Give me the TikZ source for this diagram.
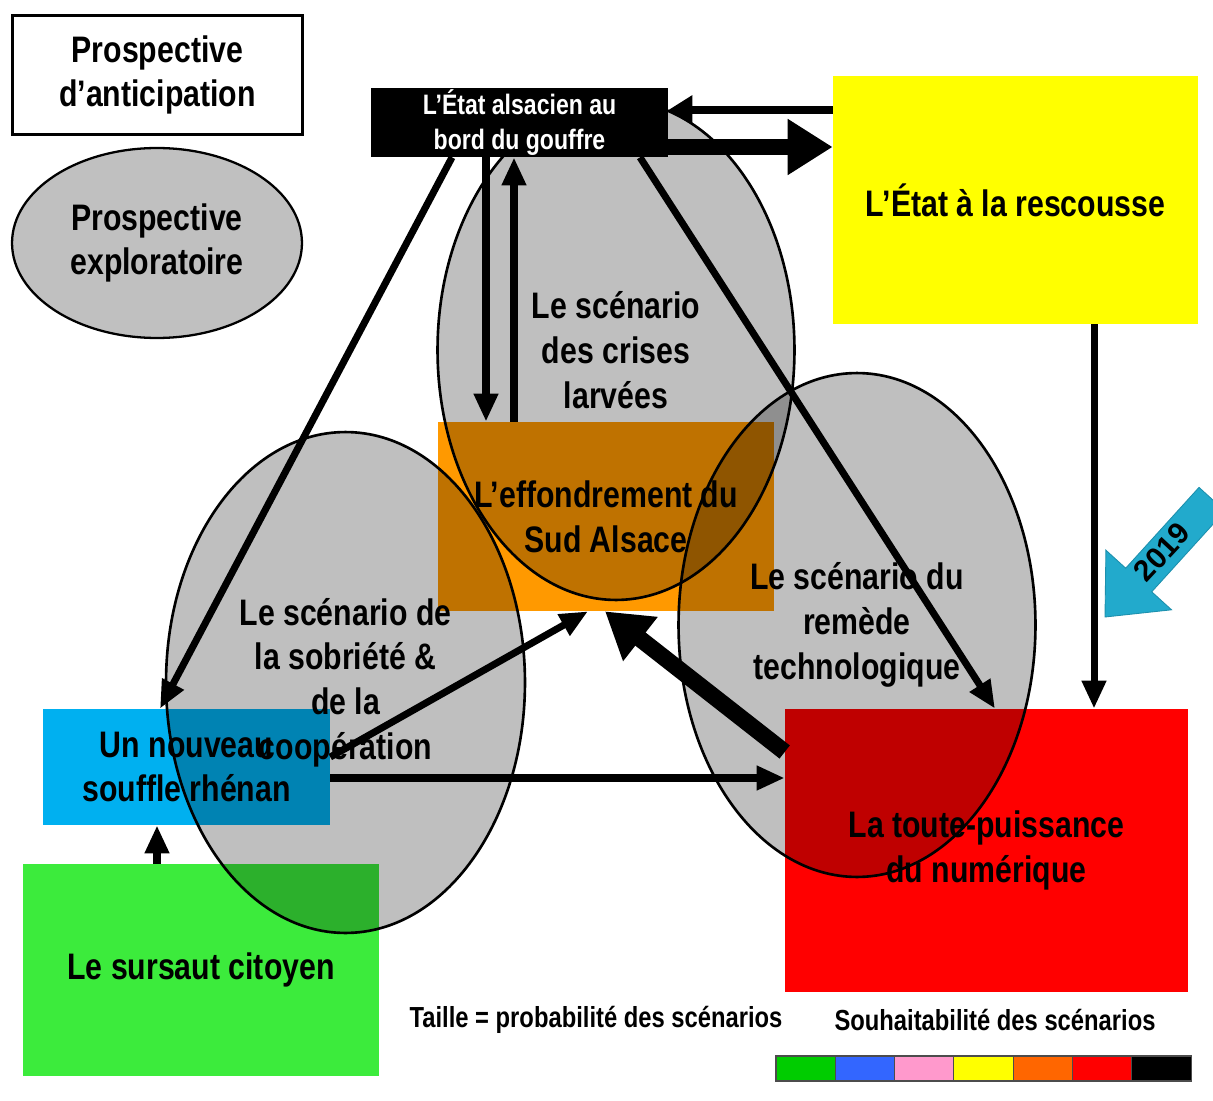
\documentclass[tikz,border=0pt]{standalone}
\usepackage{fontspec}
\setmainfont{Liberation Sans}[FakeStretch=0.82]
\newfontfamily\yearfont{Liberation Sans}
\usetikzlibrary{arrows.meta,shapes.geometric}
\definecolor{scgray}{HTML}{C0C0C0}
\definecolor{scorange}{HTML}{FF9900}
\definecolor{scblue}{HTML}{00B0F0}
\definecolor{scgreen}{HTML}{3CEB3C}
\definecolor{scred}{HTML}{FF0000}
\definecolor{scyellow}{HTML}{FFFF00}
\definecolor{yearcyan}{HTML}{22AACC}
\definecolor{lgreen}{HTML}{00CC00}
\definecolor{lblue}{HTML}{3366FF}
\definecolor{lpink}{HTML}{FF99CC}
\definecolor{lyellow}{HTML}{FFFF00}
\definecolor{lorange}{HTML}{FF6600}
\definecolor{lred}{HTML}{FF0000}
\begin{document}
\begin{tikzpicture}[x=0.02cm,y=-0.02cm,
 every node/.style={font=\bfseries\fontsize{21}{25.5}\selectfont,align=center,inner sep=0pt},
 box/.style={rectangle,inner sep=0pt},
 scen/.style={ellipse,draw,line width=1.5pt,fill=black,fill opacity=0.25,text opacity=1},
 arr/.style={-{Triangle[length=0.56cm,width=0.46cm]},line width=4pt},
 midarr/.style={-{Triangle[length=0.48cm,width=0.56cm]},line width=5pt},
 bigarr/.style={-{Triangle[length=0.9cm,width=1.06cm]},line width=9.5pt},
 legend/.style={font=\bfseries\fontsize{16.5}{19}\selectfont}]
\useasboundingbox (0,0) rectangle (1213,1101);
\node[box,draw,line width=1.7pt,fill=white,minimum width=5.82cm,minimum height=2.4cm] (anticip) at (157.5,75) {Prospective\\d’anticipation};
\node[ellipse,draw,line width=1.3pt,fill=scgray,minimum width=5.8cm,minimum height=3.8cm] (explor) at (157,243) {Prospective\\exploratoire};
\node[box,fill=scyellow,minimum width=7.3cm,minimum height=4.96cm] (rescousse) at (1015.5,200) {L’État à la rescousse};
\node[box,fill=scorange,minimum width=6.72cm,minimum height=3.78cm] (effond) at (606,516.5) {L’effondrement du\\Sud Alsace};
\node[box,fill=scblue,minimum width=5.74cm,minimum height=2.32cm] (souffle) at (186.5,767) {Un nouveau\\souffle rhénan};
\node[box,fill=scgreen,minimum width=7.12cm,minimum height=4.24cm] (sursaut) at (201,970) {Le sursaut citoyen};
\node[box,fill=scred,minimum width=8.06cm,minimum height=5.66cm] (numerique) at (986.5,850.5) {La toute-puissance\\du numérique};
\node[scen,minimum width=7.14cm,minimum height=10cm] (crises) at (616,350) {Le scénario\\des crises\\larvées};
\node[scen,minimum width=7.14cm,minimum height=10.08cm] (remede) at (857,625) {Le scénario du\\remède\\technologique};
\node[scen,minimum width=7.18cm,minimum height=10.02cm] (sobriete) at (345.5,682.5) {Le scénario de\\la sobriété \&\\de la\\coopération};
\node[box,fill=black,text=white,font=\bfseries\fontsize{16}{20}\selectfont,minimum width=5.94cm,minimum height=1.38cm] (bord) at (519.5,122.5) {L’État alsacien au\\bord du gouffre};
\draw[midarr] (rescousse.west |- 0,110) -- (bord.east |- 0,110);
\draw[bigarr] (bord.east |- 0,147) -- (rescousse.west |- 0,147);
\draw[arr] (bord.south -| 486,0) -- (effond.north -| 486,0);
\draw[arr] (effond.north -| 514,0) -- (bord.south -| 514,0);
\draw[arr] (bord.south -| 452,0) -- (souffle.north -| 160,0);
\draw[arr] (bord.south -| 640,0) -- (numerique.north -| 995,0);
\draw[arr] (rescousse.south -| 1094,0) -- (numerique.north -| 1094,0);
\draw[arr] (sursaut.north -| 157,0) -- (souffle.south -| 157,0);
\draw[arr] (souffle.east |- 0,778) -- (numerique.west |- 0,778);
\draw[arr] (souffle.east |- 0,757) -- (effond.south -| 588,0);
\draw[bigarr] (numerique.west |- 0,752) -- (effond.south -| 605,0);
\begin{scope}
\clip (0,0) rectangle (1213,1101);
\fill[yearcyan,draw=yearcyan!85!black,line width=0.5pt] (1105,617) -- (1171.5,609.8) -- (1151.7,591.8) -- (1225,511) -- (1199,487.4) -- (1125.7,568.2) -- (1105.9,550.2) -- cycle;
\end{scope}
\node[font=\yearfont\bfseries\fontsize{17}{20}\selectfont,rotate=47] (annee) at (1162,552) {2019};
\node[legend] (taille) at (596,1020) {Taille = probabilité des scénarios};
\node[legend] (souhait) at (995,1020) {Souhaitabilité des scénarios};
\foreach \c [count=\i from 0] in {lgreen,lblue,lpink,lyellow,lorange,lred,black}
 \filldraw[fill=\c,draw=black!70,line width=0.6pt] (776+59.3*\i,1056) rectangle ++(59.3,25);
\end{tikzpicture}
\end{document}
